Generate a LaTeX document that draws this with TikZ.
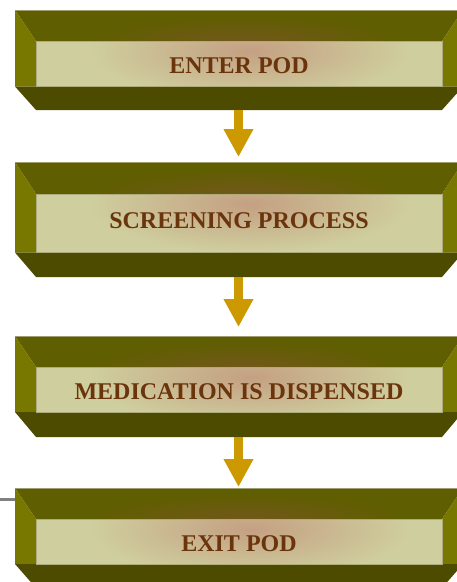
\documentclass[tikz,border=0pt]{standalone}
\usepackage{fontspec}
\setmainfont{Liberation Serif}
\usetikzlibrary{arrows.meta}
\definecolor{topband}{RGB}{95,94,0}
\definecolor{topglow}{RGB}{114,88,26}
\definecolor{sideband}{RGB}{120,120,0}
\definecolor{botband}{RGB}{76,75,0}
\definecolor{khaki}{RGB}{207,206,158}
\definecolor{innerglow}{RGB}{196,160,130}
\definecolor{podbrown}{RGB}{106,52,12}
\definecolor{podgold}{RGB}{204,153,0}
\definecolor{edgeline}{RGB}{160,158,110}
\tikzset{
  podtext/.style={font=\bfseries\fontsize{24}{24}\selectfont, text=podbrown, anchor=base, inner sep=0pt},
  podarrow/.style={draw=podgold, line width=9pt, -{Triangle[width=28pt,length=28pt]}},
  grayline/.style={draw=gray, line width=3pt}
}
\newcommand\podbox[7]{%
  \fill[topband] (15,#2) -- (463,#2) -- (442,#3) -- (36,#3) -- cycle;
  \begin{scope}
    \clip (15,#2) -- (463,#2) -- (442,#3) -- (36,#3) -- cycle;
    \shade[inner color=topglow, outer color=topband] (85,#3-26) rectangle (405,#3+26);
  \end{scope}
  \fill[sideband] (15,#2) -- (36,#3) -- (36,#4) -- (15,#4) -- cycle;
  \fill[sideband] (463,#2) -- (442,#3) -- (442,#4) -- (463,#4) -- cycle;
  \fill[botband] (15,#4) -- (463,#4) -- (442,#5) -- (36,#5) -- cycle;
  \fill[khaki] (36,#3) rectangle (442,#4);
  \begin{scope}
    \clip (36,#3) rectangle (442,#4);
    \shade[inner color=innerglow, outer color=khaki] (90,#3-38) rectangle (410,#3+58);
  \end{scope}
  \draw[edgeline, line width=0.7pt] (15,#2) -- (463,#2);
  \draw[edgeline!70!khaki, line width=0.5pt] (36,#3) rectangle (442,#4);
  \node[podtext] (#1) at (239,#6) {#7};
}
\begin{document}
\begin{tikzpicture}[x=1pt, y=-1pt]
  \useasboundingbox (0,0) rectangle (457,582);
  \clip (0,0) rectangle (457,582);
  \podbox{enter}{10}{41}{86.5}{110}{73}{ENTER POD}
  \podbox{screen}{162}{194}{252.5}{277}{228}{SCREENING PROCESS}
  \podbox{medic}{336}{367}{412}{437}{399}{MEDICATION IS DISPENSED}
  \podbox{exit}{488}{519}{564}{588}{551}{EXIT POD}
  \coordinate (a1s) at (238.5,110);
  \coordinate (a1e) at (238.5,157);
  \coordinate (a2s) at (238.5,277);
  \coordinate (a2e) at (238.5,327);
  \coordinate (a3s) at (238.5,437);
  \coordinate (a3e) at (238.5,487);
  \coordinate (gs) at (0,499);
  \coordinate (ge) at (15,499);
  \draw[podarrow] (a1s) -- (a1e);
  \draw[podarrow] (a2s) -- (a2e);
  \draw[podarrow] (a3s) -- (a3e);
  \draw[grayline] (gs) -- (ge);
\end{tikzpicture}
\end{document}
